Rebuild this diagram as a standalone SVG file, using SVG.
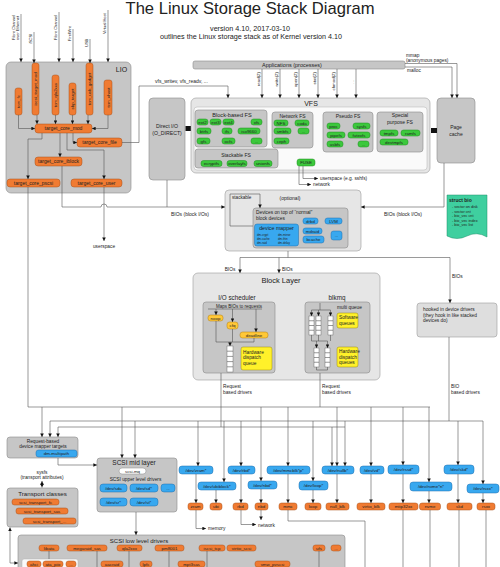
<svg xmlns="http://www.w3.org/2000/svg" width="500" height="567" viewBox="0 0 500 567">
<defs>
<marker id="ah" viewBox="0 0 6 6" refX="6" refY="3" markerWidth="3.6" markerHeight="3.6" orient="auto-start-reverse" markerUnits="userSpaceOnUse"><path d="M0,0 L6,3 L0,6 z" fill="#111"/></marker>
<style>
text{font-family:"Liberation Sans",Arial,sans-serif;fill:#222}
.s{font-size:4.4px;text-anchor:middle}
.m{font-size:5px;text-anchor:middle}
.ls{font-size:4.6px}
.gb{fill:#c6c6c6;stroke:#8a8a8a;stroke-width:.6}
.lb{fill:#e6e6e6;stroke:#9a9a9a;stroke-width:.6}
.wb{fill:#fafafa;stroke:#b0b0b0;stroke-width:.5}
.gr{fill:#3cc83c;stroke:#1f8c1f;stroke-width:.5}
.bl{fill:#38a8ef;stroke:#1f6fae;stroke-width:.5}
.or{fill:#f07b32;stroke:#a8501a;stroke-width:.5}
.ye{fill:#fff12a;stroke:#9a8a10;stroke-width:.5}
.yo{fill:#ffc838;stroke:#b07c10;stroke-width:.5}
.q{fill:#fff;stroke:#555;stroke-width:.4}
.ln{fill:none;stroke:#555;stroke-width:.6}
.ar{fill:none;stroke:#555;stroke-width:.6;marker-end:url(#ah)}
</style>
</defs>
<rect width="500" height="567" fill="#fff"/>

<g id="title">
<text x="250" y="14" font-size="17" text-anchor="middle" textLength="249" lengthAdjust="spacingAndGlyphs">The Linux Storage Stack Diagram</text>
<text x="250" y="30.5" font-size="7.2" text-anchor="middle">version 4.10, 2017-03-10</text>
<text x="251" y="38.5" font-size="7.2" text-anchor="middle">outlines the Linux storage stack as of Kernel version 4.10</text>
</g>

<g id="inputs">
<text class="ls" font-size="4" transform="translate(14.5,40) rotate(-90)" style="font-size:4px">Fibre Channel</text>
<text transform="translate(19,40) rotate(-90)" style="font-size:4px">over Ethernet</text>
<text transform="translate(31.5,44) rotate(-90)" style="font-size:4px">iSCSI</text>
<text transform="translate(56.5,40) rotate(-90)" style="font-size:4px">Fibre Channel</text>
<text transform="translate(70.5,41) rotate(-90)" style="font-size:4px">FireWire</text>
<text transform="translate(87.5,47) rotate(-90)" style="font-size:4px">USB</text>
<text transform="translate(105.5,34) rotate(-90)" style="font-size:4px">Virtual Host</text>
</g>

<g id="lio">
<rect class="gb" x="6" y="62" width="125" height="131" rx="5"/>
<text x="121.5" y="72" font-size="7" text-anchor="middle">LIO</text>
<rect class="or" x="15" y="88" width="7" height="27" rx="2.5"/>
<text class="s" transform="translate(18.5,101.5) rotate(-90)" y="1.5">tcm_fc</text>
<rect class="or" x="32" y="63" width="7" height="52" rx="2.5"/>
<text class="s" transform="translate(35.5,89) rotate(-90)" y="1.5">iscsi_target_mod</text>
<rect class="or" x="52" y="75" width="7" height="40" rx="2.5"/>
<text class="s" transform="translate(55.5,95) rotate(-90)" y="1.5">tcm_qla2xxx</text>
<rect class="or" x="69" y="83" width="7" height="32" rx="2.5"/>
<text class="s" transform="translate(72.5,99) rotate(-90)" y="1.5">sbp_target</text>
<rect class="or" x="86" y="63" width="7" height="52" rx="2.5"/>
<text class="s" transform="translate(89.5,89) rotate(-90)" y="1.5">tcm_usb_gadget</text>
<rect class="or" x="104" y="80" width="8" height="35" rx="2.5"/>
<text class="s" transform="translate(108,97.5) rotate(-90)" y="1.5">tcm_vhost</text>
<rect class="or" x="35" y="124" width="57" height="9" rx="3"/>
<text class="m" x="63.5" y="130.3">target_core_mod</text>
<rect class="or" x="77" y="138" width="45" height="9" rx="3"/>
<text class="m" x="99.5" y="144.3">target_core_file</text>
<rect class="or" x="35" y="157" width="47" height="9" rx="3"/>
<text class="m" x="58.5" y="163.3">target_core_iblock</text>
<rect class="or" x="7" y="179" width="53" height="8" rx="3"/>
<text class="m" x="33.5" y="184.8">target_core_pscsi</text>
<rect class="or" x="71" y="179" width="51" height="8" rx="3"/>
<text class="m" x="96.5" y="184.8">target_core_user</text>
</g>

<g id="applications">
<rect class="gb" x="193" y="61" width="212" height="8" rx="2"/>
<text x="292" y="67" font-size="5.5" text-anchor="middle">Applications (processes)</text>
<text transform="translate(260,72) rotate(-90)" style="font-size:4.4px;text-anchor:end">read(2)</text>
<text transform="translate(278,72) rotate(-90)" style="font-size:4.4px;text-anchor:end">write(2)</text>
<text transform="translate(297,72) rotate(-90)" style="font-size:4.4px;text-anchor:end">open(2)</text>
<text transform="translate(316,72) rotate(-90)" style="font-size:4.4px;text-anchor:end">stat(2)</text>
<text transform="translate(335,72) rotate(-90)" style="font-size:4.4px;text-anchor:end">chmod(2)</text>
<text transform="translate(354,80) rotate(-90)" style="font-size:4.4px;text-anchor:end">...</text>
<text x="406" y="57" font-size="4.8">mmap</text>
<text x="406" y="62" font-size="4.8">(anonymous pages)</text>
<text x="407" y="72" font-size="4.8">malloc</text>
<text x="155" y="83" font-size="5">vfs_writev, vfs_readv, ...</text>
</g>

<g id="direct-io">
<rect class="gb" x="149" y="98" width="36" height="82" rx="4"/>
<text x="167" y="128" font-size="5.2" text-anchor="middle">Direct I/O</text>
<text x="167" y="135" font-size="5.2" text-anchor="middle">(O_DIRECT)</text>
<rect x="185.5" y="126" width="5.5" height="5" fill="#111"/>
</g>

<g id="vfs">
<rect class="lb" x="191" y="98" width="239" height="75" rx="5"/>
<rect class="wb" x="194" y="107" width="233" height="63" rx="3"/>
<text x="311" y="106" font-size="7" text-anchor="middle">VFS</text>
<rect class="gb" x="195" y="110" width="72" height="37" rx="3"/>
<text x="232" y="116.5" font-size="5.6" text-anchor="middle">Block-based FS</text>
<rect class="gr" x="197" y="119" width="11" height="6" rx="2.5"/><text class="s" x="202.5" y="123.6">ext2</text>
<rect class="gr" x="210" y="119" width="11" height="6" rx="2.5"/><text class="s" x="215.5" y="123.6">ext3</text>
<rect class="gr" x="223" y="119" width="11" height="6" rx="2.5"/><text class="s" x="228.5" y="123.6">ext4</text>
<rect class="gr" x="251" y="119" width="11" height="6" rx="2.5"/><text class="s" x="256.5" y="123.6">xfs</text>
<rect class="gr" x="197" y="128" width="14" height="6" rx="2.5"/><text class="s" x="204" y="132.6">btrfs</text>
<rect class="gr" x="222" y="128" width="10" height="6" rx="2.5"/><text class="s" x="227" y="132.6">ifs</text>
<rect class="gr" x="238" y="128" width="22" height="6" rx="2.5"/><text class="s" x="249" y="132.6">iso9660</text>
<rect class="gr" x="197" y="138" width="13" height="6" rx="2.5"/><text class="s" x="203.5" y="142.6">gfs</text>
<rect class="gr" x="222" y="138" width="13" height="6" rx="2.5"/><text class="s" x="228.5" y="142.6">ocfs</text>
<rect class="gr" x="251" y="138" width="11" height="6" rx="2.5"/><text class="s" x="256.5" y="142.6">...</text>
<rect class="gb" x="195" y="149" width="83" height="19" rx="3"/>
<text x="236" y="157" font-size="5" text-anchor="middle">Stackable FS</text>
<rect class="gr" x="201" y="160.5" width="21" height="6" rx="2.5"/><text class="s" x="211.5" y="165.1">ecryptfs</text>
<rect class="gr" x="227" y="160.5" width="20" height="6" rx="2.5"/><text class="s" x="237" y="165.1">overlayfs</text>
<rect class="gr" x="254" y="160.5" width="18" height="6" rx="2.5"/><text class="s" x="263" y="165.1">unionfs</text>
<rect class="gb" x="272" y="112" width="41" height="36" rx="3"/>
<text x="292.5" y="117.5" font-size="5" text-anchor="middle">Network FS</text>
<rect class="gr" x="274" y="120" width="14" height="6" rx="2.5"/><text class="s" x="281" y="124.6">NFS</text>
<rect class="gr" x="295" y="120" width="14" height="6" rx="2.5"/><text class="s" x="302" y="124.6">coda</text>
<rect class="gr" x="274" y="128" width="17" height="6" rx="2.5"/><text class="s" x="282.5" y="132.6">smbfs</text>
<rect class="gr" x="298" y="128" width="11" height="6" rx="2.5"/><text class="s" x="303.5" y="132.6">...</text>
<rect class="gr" x="274" y="138" width="15" height="6" rx="2.5"/><text class="s" x="281.5" y="142.6">ceph</text>
<rect class="gr" x="297" y="159" width="18" height="7" rx="2.5"/><text class="s" x="306" y="164.1">FUSE</text>
<rect class="gb" x="323" y="112" width="50" height="40" rx="3"/>
<text x="348" y="117.5" font-size="5" text-anchor="middle">Pseudo FS</text>
<rect class="gr" x="327" y="123" width="13" height="6" rx="2.5"/><text class="s" x="333.5" y="127.6">proc</text>
<rect class="gr" x="353" y="123" width="17" height="6" rx="2.5"/><text class="s" x="361.5" y="127.6">sysfs</text>
<rect class="gr" x="327" y="132" width="18" height="6" rx="2.5"/><text class="s" x="336" y="136.6">pipefs</text>
<rect class="gr" x="348" y="132" width="22" height="6" rx="2.5"/><text class="s" x="359" y="136.6">futexfs</text>
<rect class="gr" x="327" y="141" width="16" height="6" rx="2.5"/><text class="s" x="335" y="145.6">usbfs</text>
<rect class="gr" x="358" y="141" width="11" height="6" rx="2.5"/><text class="s" x="363.5" y="145.6">...</text>
<rect class="gb" x="377" y="112" width="46" height="40" rx="3"/>
<text x="400" y="117" font-size="5" text-anchor="middle">Special</text>
<text x="400" y="123.5" font-size="5" text-anchor="middle">purpose FS</text>
<rect class="gr" x="380" y="130" width="18" height="6" rx="2.5"/><text class="s" x="389" y="134.6">tmpfs</text>
<rect class="gr" x="401" y="130" width="19" height="6" rx="2.5"/><text class="s" x="410.5" y="134.6">ramfs</text>
<rect class="gr" x="380" y="139" width="28" height="6" rx="2.5"/><text class="s" x="394" y="143.6">devtmpfs</text>
<text x="320" y="180" font-size="4.8">userspace (e.g. sshfs)</text>
<text x="313" y="186" font-size="4.8">network</text>
</g>

<g id="page-cache">
<rect class="gb" x="437" y="98" width="38" height="65" rx="4"/>
<text x="456" y="129" font-size="5" text-anchor="middle">Page</text>
<text x="456" y="135.5" font-size="5" text-anchor="middle">cache</text>
<rect x="431" y="128" width="6" height="5" fill="#111"/>
</g>

<g id="struct-bio">
<path d="M447,195 H487 V237 Q477,231 467,236 T447,236 Z" fill="#3fcf9f" stroke="#1e8f6a" stroke-width=".5"/>
<text x="449" y="202" font-size="5" font-weight="bold">struct bio</text>
<text x="452" y="208" font-size="3.8">- sector on disk</text>
<text x="452" y="212.5" font-size="3.8">- sector cnt</text>
<text x="452" y="217" font-size="3.8">- bio_vec cnt</text>
<text x="452" y="221.5" font-size="3.8">- bio_vec index</text>
<text x="452" y="226" font-size="3.8">- bio_vec list</text>
</g>

<g id="stacked-devices">
<rect class="lb" x="225" y="190" width="136" height="61" rx="4"/>
<text x="232" y="199" font-size="4.6">stackable</text>
<text x="290" y="199.5" font-size="5" text-anchor="middle">(optional)</text>
<rect class="gb" x="253" y="208" width="95" height="40" rx="3"/>
<text x="256" y="214" font-size="4.8">Devices on top of “normal”</text>
<text x="256" y="220" font-size="4.8">block devices</text>
<rect class="bl" x="254.5" y="224" width="44" height="22" rx="2.5"/>
<text x="276.5" y="230" font-size="5.3" text-anchor="middle">device mapper</text>
<text x="257" y="236" font-size="2.9">dm-crypt</text><text x="278" y="236" font-size="2.9">dm-mirror</text>
<text x="257" y="240" font-size="2.9">dm-cache</text><text x="278" y="240" font-size="2.9">dm-thin</text>
<text x="257" y="244" font-size="2.9">dm-raid</text><text x="278" y="244" font-size="2.9">dm-delay</text>
<rect class="bl" x="303" y="218" width="15" height="6" rx="2.5"/><text class="s" x="310.5" y="222.6">drbd</text>
<rect class="bl" x="325" y="218" width="17" height="6" rx="2.5"/><text class="s" x="333.5" y="222.6">LVM</text>
<rect class="bl" x="303" y="228" width="19" height="6" rx="2.5"/><text class="s" x="312.5" y="232.6">mdraid</text>
<rect class="bl" x="303" y="236" width="21" height="7" rx="2.5"/><text class="s" x="313.5" y="241.1">bcache</text>
<rect class="bl" x="331" y="231" width="11" height="9" rx="2.5"/><text class="s" x="336.5" y="236.6">...</text>
</g>

<g id="block-layer">
<rect class="lb" x="193" y="273" width="187" height="107" rx="5"/>
<text x="281" y="283" font-size="7.5" text-anchor="middle">Block Layer</text>
<text x="237" y="299.5" font-size="6.3" text-anchor="middle">I/O scheduler</text>
<rect class="gb" x="203" y="302" width="72" height="71" rx="3"/>
<text x="239" y="307.5" font-size="4.5" text-anchor="middle">Maps BIOs to requests</text>
<rect class="yo" x="208" y="315" width="15" height="6" rx="2.5"/><text class="s" x="215.5" y="319.6">noop</text>
<rect class="yo" x="227" y="322" width="11" height="7" rx="2.5"/><text class="s" x="232.5" y="327.1">cfq</text>
<rect class="yo" x="240" y="332" width="28" height="6" rx="2.5"/><text class="s" x="254" y="336.6">deadline</text>
<rect class="ye" x="241" y="347" width="31" height="23" rx="2"/>
<text x="243" y="353.5" font-size="4.8">Hardware</text>
<text x="243" y="359" font-size="4.8">dispatch</text>
<text x="243" y="364.5" font-size="4.8">queue</text>
<rect class="q" x="227" y="346" width="6" height="26"/>
<path class="ln" d="M227,351.2 H233 M227,356.4 H233 M227,361.6 H233 M227,366.8 H233"/>
<path class="ln" d="M208,309 H262"/>
<path class="ar" d="M216,309 V315"/>
<path class="ar" d="M232.5,309 V322"/>
<path class="ar" d="M256,309 V332"/>
<path class="ln" d="M216,321 V342 H254 M232.5,329 V342 M254,338 V342"/>
<path class="ar" d="M230,342 V346"/>
<text x="337" y="299.5" font-size="6.3" text-anchor="middle">blkmq</text>
<rect class="gb" x="305" y="302" width="65" height="71" rx="3"/>
<text x="337" y="309" font-size="4.8">multi queue</text>
<rect class="ye" x="337" y="313" width="21" height="15" rx="2"/>
<text x="339" y="319" font-size="4.8">Software</text>
<text x="339" y="325" font-size="4.8">queues</text>
<rect class="ye" x="337" y="347" width="21" height="20" rx="2"/>
<text x="339" y="353" font-size="4.8">Hardware</text>
<text x="339" y="358.5" font-size="4.8">dispatch</text>
<text x="339" y="364" font-size="4.8">queues</text>
<rect class="q" x="309" y="316" width="5" height="19"/>
<rect class="q" x="316" y="316" width="5" height="19"/>
<rect class="q" x="328" y="316" width="5" height="19"/>
<path class="ln" d="M309,320.75 H314 M309,325.5 H314 M309,330.25 H314 M316,320.75 H321 M316,325.5 H321 M316,330.25 H321 M328,320.75 H333 M328,325.5 H333 M328,330.25 H333"/>
<rect class="q" x="314" y="348" width="5" height="19"/>
<rect class="q" x="325" y="348" width="5" height="19"/>
<path class="ln" d="M314,352.75 H319 M314,357.5 H319 M314,362.25 H319 M325,352.75 H330 M325,357.5 H330 M325,362.25 H330"/>
<path class="ln" d="M311.5,310 H330.5 M320,303 V310"/>
<path class="ar" d="M311.5,310 V316"/>
<path class="ar" d="M318.5,310 V316"/>
<path class="ar" d="M330.5,310 V316"/>
<path class="ln" d="M311.5,335 V341 H327.5 M318.5,335 V341 M330.5,335 V341"/>
<path class="ar" d="M316.5,341 V348"/>
<path class="ar" d="M327.5,341 V348"/>
<path class="ln" d="M316.5,367 V370 H327.5 V367"/>
</g>

<g id="hooked">
<rect x="417" y="303" width="80" height="34" rx="3" fill="#dedede" stroke="#9a9a9a" stroke-width=".6"/>
<text x="423" y="311" font-size="4.8">hooked in device drivers</text>
<text x="423" y="316.5" font-size="4.8">(they hook in like stacked</text>
<text x="423" y="322" font-size="4.8">devices do)</text>
</g>

<g id="labels">
<text x="104" y="248" font-size="4.8" text-anchor="middle">userspace</text>
<text x="190" y="216" font-size="5" text-anchor="middle">BIOs (block I/Os)</text>
<text x="403" y="216" font-size="5" text-anchor="middle">BIOs (block I/Os)</text>
<text x="230" y="271" font-size="4.8" text-anchor="middle">BIOs</text>
<text x="282" y="271" font-size="4.8">BIOs</text>
<text x="452" y="278" font-size="4.8">BIOs</text>
<text x="223" y="388" font-size="4.8">Request</text>
<text x="223" y="393.5" font-size="4.8">based drivers</text>
<text x="322" y="388" font-size="4.8">Request</text>
<text x="322" y="393.5" font-size="4.8">based drivers</text>
<text x="451" y="388" font-size="4.8">BIO</text>
<text x="451" y="393.5" font-size="4.8">based drivers</text>
<text x="208" y="530" font-size="4.8">memory</text>
<text x="258" y="526.5" font-size="4.8">network</text>
</g>

<g id="request-dm">
<rect class="gb" x="7" y="437" width="71" height="21" rx="3"/>
<text x="43" y="442.5" font-size="4.8" text-anchor="middle">Request-based</text>
<text x="43" y="447.5" font-size="4.8" text-anchor="middle">device mapper targets</text>
<rect class="bl" x="36" y="450" width="41" height="7" rx="2.5"/><text class="s" x="56.5" y="455.1">dm-multipath</text>
<text x="42" y="474" font-size="4.8" text-anchor="middle">sysfs</text>
<text x="42" y="479" font-size="4.8" text-anchor="middle">(transport attributes)</text>
</g>

<g id="transport-classes">
<rect class="gb" x="7" y="488" width="71" height="39" rx="3"/>
<text x="42.5" y="496" font-size="6.2" text-anchor="middle">Transport classes</text>
<rect class="or" x="12" y="499" width="47" height="6" rx="2.5"/><text class="s" x="35.5" y="503.6">scsi_transport_fc</text>
<rect class="or" x="16" y="508" width="52" height="6" rx="2.5"/><text class="s" x="42" y="512.6">scsi_transport_sas</text>
<rect class="or" x="23" y="518" width="53" height="6" rx="2.5"/><text class="s" x="49.5" y="522.6">scsi_transport_...</text>
</g>

<g id="scsi-mid">
<rect class="gb" x="97" y="458" width="80" height="54" rx="3"/>
<text x="134" y="465" font-size="6.5" text-anchor="middle">SCSI mid layer</text>
<rect x="119" y="468" width="27" height="6" rx="3" fill="#fff" stroke="#888" stroke-width=".5"/><text class="s" x="132.5" y="472.6">scsi-mq</text>
<text x="135.5" y="481" font-size="4.8" text-anchor="middle">SCSI upper level drivers</text>
<rect class="bl" x="100" y="484" width="27" height="8" rx="3"/><text class="s" x="113.5" y="489.6">/dev/sda</text>
<rect class="bl" x="130" y="484" width="28" height="8" rx="3"/><text class="s" x="144" y="489.6">/dev/sd*</text>
<rect class="bl" x="161" y="484" width="14" height="8" rx="3"/><text class="s" x="168" y="489.6">...</text>
<rect class="bl" x="100" y="498" width="27" height="8" rx="3"/><text class="s" x="113.5" y="503.6">/dev/sr*</text>
<rect class="bl" x="130" y="498" width="28" height="8" rx="3"/><text class="s" x="144" y="503.6">/dev/st*</text>
</g>

<g id="scsi-low">
<rect class="gb" x="18" y="535" width="327" height="40" rx="3"/>
<text x="139" y="542.5" font-size="6" text-anchor="middle">SCSI low level drivers</text>
<rect class="or" x="39" y="545" width="20" height="6" rx="2.5"/><text class="s" x="49" y="549.6">libata</text>
<rect class="or" x="67" y="545" width="40" height="6" rx="2.5"/><text class="s" x="87" y="549.6">megaraid_sas</text>
<rect class="or" x="117" y="545" width="25" height="6" rx="2.5"/><text class="s" x="129.5" y="549.6">qla2xxx</text>
<rect class="or" x="155" y="545" width="29" height="6" rx="2.5"/><text class="s" x="169.5" y="549.6">pm8001</text>
<rect class="or" x="199" y="545" width="26" height="6" rx="2.5"/><text class="s" x="212" y="549.6">iscsi_tcp</text>
<rect class="or" x="227" y="545" width="29" height="6" rx="2.5"/><text class="s" x="241.5" y="549.6">virtio_scsi</text>
<rect class="or" x="313" y="545" width="12" height="6" rx="2.5"/><text class="s" x="319" y="549.6">ufs</text>
<rect class="or" x="331" y="545" width="10" height="6" rx="2.5"/><text class="s" x="336" y="549.6">...</text>
<rect class="wb" x="22" y="559" width="56" height="12" rx="2"/>
<rect class="or" x="27" y="561" width="14" height="6" rx="2.5"/><text class="s" x="34" y="565.6">ahci</text>
<rect class="or" x="43" y="561" width="20" height="6" rx="2.5"/><text class="s" x="53" y="565.6">ata_piix</text>
<rect class="or" x="66" y="561" width="10" height="6" rx="2.5"/><text class="s" x="71" y="565.6">...</text>
<rect class="or" x="101" y="561" width="22" height="6" rx="2.5"/><text class="s" x="112" y="565.6">aacraid</text>
<rect class="or" x="140" y="561" width="12" height="6" rx="2.5"/><text class="s" x="146" y="565.6">lpfc</text>
<rect class="or" x="178" y="561" width="27" height="6" rx="2.5"/><text class="s" x="191.5" y="565.6">mpt3sas</text>
<rect class="or" x="255" y="561" width="35" height="6" rx="2.5"/><text class="s" x="272.5" y="565.6">vmw_pvscsi</text>
</g>

<g id="devices">
<rect class="bl" x="179" y="466" width="34" height="8" rx="3"/><text class="s" x="196" y="471.6">/dev/zram*</text>
<rect class="bl" x="198" y="482" width="38" height="8" rx="3"/><text class="s" x="217" y="487.6">/dev/ubiblock*</text>
<rect class="bl" x="228" y="466" width="27" height="8" rx="3"/><text class="s" x="241.5" y="471.6">/dev/rbd*</text>
<rect class="bl" x="248" y="481" width="29" height="8" rx="3"/><text class="s" x="262.5" y="486.6">/dev/nbd*</text>
<rect class="bl" x="267" y="466" width="43" height="8" rx="3"/><text class="s" x="288.5" y="471.6">/dev/mmcblk*p*</text>
<rect class="bl" x="299" y="481" width="29" height="9" rx="3"/><text class="s" x="313.5" y="487.1">/dev/loop*</text>
<rect class="bl" x="322" y="466" width="32" height="8" rx="3"/><text class="s" x="338" y="471.6">/dev/nullb*</text>
<rect class="bl" x="360" y="466" width="24" height="8" rx="3"/><text class="s" x="372" y="471.6">/dev/vd*</text>
<rect class="bl" x="388" y="465" width="31" height="9" rx="3"/><text class="s" x="403.5" y="471.1">/dev/rssd*</text>
<rect class="bl" x="410" y="482" width="42" height="9" rx="3"/><text class="s" x="431" y="488.1">/dev/nvme*n*</text>
<rect class="bl" x="444" y="465" width="30" height="9" rx="3"/><text class="s" x="459" y="471.1">/dev/skd*</text>
<rect class="bl" x="467" y="484" width="32" height="9" rx="3"/><text class="s" x="483" y="490.1">/dev/rsxx*</text>
<rect class="or" x="188" y="503" width="15" height="7" rx="2.5"/><text class="s" x="195.5" y="508.1">zram</text>
<rect class="or" x="210" y="503" width="12" height="7" rx="2.5"/><text class="s" x="216" y="508.1">ubi</text>
<rect class="or" x="233" y="503" width="15" height="7" rx="2.5"/><text class="s" x="240.5" y="508.1">rbd</text>
<rect class="or" x="255" y="503" width="13" height="7" rx="2.5"/><text class="s" x="261.5" y="508.1">nbd</text>
<rect class="or" x="279" y="503" width="18" height="7" rx="2.5"/><text class="s" x="288" y="508.1">mmc</text>
<rect class="or" x="305" y="503" width="16" height="7" rx="2.5"/><text class="s" x="313" y="508.1">loop</text>
<rect class="or" x="326" y="503" width="23" height="7" rx="2.5"/><text class="s" x="337.5" y="508.1">null_blk</text>
<rect class="or" x="357" y="503" width="28" height="7" rx="2.5"/><text class="s" x="371" y="508.1">virtio_blk</text>
<rect class="or" x="389" y="503" width="29" height="7" rx="2.5"/><text class="s" x="403.5" y="508.1">mtip32xx</text>
<rect class="or" x="419.5" y="503" width="21" height="7" rx="2.5"/><text class="s" x="430" y="508.1">nvme</text>
<rect class="or" x="447" y="503" width="25" height="7" rx="2.5"/><text class="s" x="459.5" y="508.1">skd</text>
<rect class="or" x="477" y="503" width="18" height="7" rx="2.5"/><text class="s" x="486" y="508.1">rsxx</text>
</g>

<g id="connectors">
<path class="ar" d="M21,14 V62"/>
<path class="ar" d="M34,32 V63"/>
<path class="ar" d="M59,12 V62"/>
<path class="ar" d="M73,29 V62"/>
<path class="ar" d="M90,39 V63"/>
<path class="ar" d="M108,10 V62"/>
<path class="ar" d="M18.5,115 V128.5 H35"/>
<path class="ar" d="M37,115 V124"/>
<path class="ar" d="M55.5,115 V124"/>
<path class="ar" d="M72.5,115 V124"/>
<path class="ar" d="M88,115 V124"/>
<path class="ar" d="M108,115 V128.5 H92"/>
<path class="ar" d="M42,133 V139 H28 V179"/>
<path class="ar" d="M60,133 V157"/>
<path class="ar" d="M67,133 V150 H104 V179"/>
<path class="ar" d="M73,133 V142.5 H77"/>
<path class="ar" d="M122,142.5 H139 V86 H228 V98"/>
<path class="ar" d="M62,166 V207 H101 A3,3 0 0 1 107,207 H225"/>
<path class="ar" d="M104,187 V241"/>
<path class="ln" d="M167,180 V207"/>
<path class="ar" d="M262,69 V98"/>
<path class="ar" d="M280,69 V98"/>
<path class="ar" d="M299,69 V98"/>
<path class="ar" d="M318,69 V98"/>
<path class="ar" d="M337,69 V98"/>
<path class="ar" d="M356,69 V98"/>
<path class="ar" d="M405,63.5 H457 V98"/>
<path class="ar" d="M405,67 H452 V98"/>
<path class="ar" d="M303,166 V178.5 H318"/>
<path class="ar" d="M299,166 V184.5 H311"/>
<path class="ar" d="M444,163 V207 H361"/>
<path class="ar" d="M253,226 H230 V194 H260 V208"/>
<path class="ln" d="M288,251 V257.5 M240,257.5 H450"/>
<path class="ar" d="M240,257.5 V273"/>
<path class="ar" d="M279,257.5 V273"/>
<path class="ar" d="M450,257.5 V303"/>
<path class="ln" d="M28,187 V407 H430"/>
<path class="ln" d="M50,421 H483"/>
<path class="ln" d="M58,427 H345"/>
<path class="ln" d="M221,373 V427"/>
<path class="ln" d="M320,373 V407"/>
<path class="ln" d="M449,337 V421"/>
<path class="ar" d="M42,407 V437"/>
<path class="ar" d="M50,421 V437"/>
<path class="ar" d="M58,427 V437"/>
<path class="ar" d="M122,407 V458"/>
<path class="ar" d="M135,421 V458"/>
<path class="ar" d="M58,458 V465 H97"/>
<path class="ln" d="M42,481 V487.5" stroke-dasharray="1,1" marker-start="url(#ah)" marker-end="url(#ah)"/>
<path class="ln" d="M18,563 H10 V527.5" marker-start="url(#ah)" marker-end="url(#ah)"/>
<path class="ar" d="M136,512 V535"/>
<path class="ar" d="M198,421 V466"/>
<path class="ar" d="M224,421 V482"/>
<path class="ar" d="M241,421 V466"/>
<path class="ar" d="M261,407 V481"/>
<path class="ar" d="M288,407 V466"/>
<path class="ar" d="M313,421 V481"/>
<path class="ar" d="M332,427 V466"/>
<path class="ar" d="M337,407 V466"/>
<path class="ar" d="M345,421 V466"/>
<path class="ar" d="M371,407 V466"/>
<path class="ar" d="M403,407 V465"/>
<path class="ar" d="M429,407 V482"/>
<path class="ar" d="M458,421 V465"/>
<path class="ar" d="M483,421 V484"/>
<path class="ar" d="M196,474 V503"/>
<path class="ar" d="M216,490 V503"/>
<path class="ar" d="M241,474 V503"/>
<path class="ar" d="M261,489 V503"/>
<path class="ar" d="M288,474 V503"/>
<path class="ar" d="M313,490 V503"/>
<path class="ar" d="M337,474 V503"/>
<path class="ar" d="M371,474 V503"/>
<path class="ar" d="M403,474 V503"/>
<path class="ar" d="M429,491 V503"/>
<path class="ar" d="M458,474 V503"/>
<path class="ar" d="M483,493 V503"/>
<path class="ar" d="M196,510 V528.5 H206"/>
<path class="ar" d="M241,510 V524.5 H256"/>
<path class="ar" d="M261,510 V520"/>
<path class="ln" d="M288,510 V521 H365 V567"/>
<path class="ln" d="M403,510 V567 M430,510 V567 M459,510 V567 M486,510 V567"/>
<path class="ln" d="M97,551 V567 M129,551 V567 M169,551 V567 M207,551 V567 M319,551 V567 M49,551 V559"/>
</g>
</svg>
